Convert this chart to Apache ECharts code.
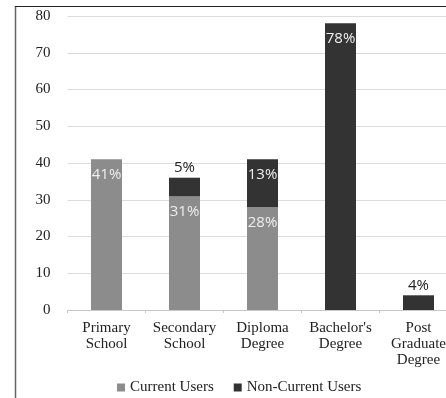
<!DOCTYPE html>
<html>
<head>
<meta charset="utf-8">
<script src="https://cdn.jsdelivr.net/npm/echarts@6/dist/echarts.min.js"></script>
<style>
  html, body { margin: 0; padding: 0; background: #fff; overflow: hidden; }
  /* the plot runs slightly past the right edge of the window */
  #chart { width: 470px; height: 398px; }
</style>
</head>
<body>
<div id="chart"></div>
<script>
// Education level of respondents, split by user type (percent)
const categories = ['Primary\nSchool', 'Secondary\nSchool', 'Diploma\nDegree', "Bachelor's\nDegree", 'Post\nGraduate\nDegree'];
const currentUsers = [41, 31, 28, null, null];
const nonCurrentUsers = [null, 5, 13, 78, 4];
const yTicks = { min: 0, max: 80, step: 10 };

const serif = '"Liberation Serif", "Times New Roman", serif';
const sans = '"Open Sans", "Liberation Sans", Arial, sans-serif';

// Short segments get their label above the bar in dark text; taller ones inside in white.
function withLabels(values) {
  return values.map(v => {
    if (v == null) return { value: null, label: { show: false } };
    const small = v < 8;
    return {
      value: v,
      label: {
        show: true,
        position: small ? 'top' : 'insideTop',
        distance: small ? 2 : 8,
        color: small ? '#222' : '#eeeeee',
        fontFamily: sans,
        fontSize: 15,
        formatter: v + '%'
      }
    };
  });
}

const chart = echarts.init(document.getElementById('chart'), null, { renderer: 'canvas' });
chart.setOption({
  animation: false,
  backgroundColor: '#fff',
  grid: { left: 67.5, top: 16, width: 390, height: 294, containLabel: false },
  legend: {
    left: 112, top: 375,
    itemWidth: 8, itemHeight: 8, itemGap: 20,
    icon: 'rect',
    textStyle: { fontFamily: serif, fontSize: 15, color: '#222' },
    data: ['Current Users', 'Non-Current Users']
  },
  xAxis: {
    type: 'category',
    data: categories,
    axisLine: { lineStyle: { color: '#c8c8c8' } },
    axisTick: { show: true, length: 3, lineStyle: { color: '#c8c8c8' } },
    axisLabel: { fontFamily: serif, fontSize: 15, color: '#222', lineHeight: 16, margin: 10, interval: 0 }
  },
  yAxis: {
    type: 'value',
    min: yTicks.min, max: yTicks.max, interval: yTicks.step,
    axisLine: { show: false },
    axisTick: { show: false },
    splitLine: { lineStyle: { color: '#dcdcdc' } },
    axisLabel: { fontFamily: serif, fontSize: 15, color: '#222', margin: 17 }
  },
  series: [
    {
      name: 'Current Users', type: 'bar', stack: 'users', barWidth: 31,
      itemStyle: { color: '#8c8c8c' },
      data: withLabels(currentUsers)
    },
    {
      name: 'Non-Current Users', type: 'bar', stack: 'users', barWidth: 31,
      itemStyle: { color: '#333333' },
      data: withLabels(nonCurrentUsers)
    }
  ],
  graphic: [
    { type: 'line', shape: { x1: 15.5, y1: 6, x2: 15.5, y2: 398 }, style: { stroke: '#666', lineWidth: 1.5 } },
    { type: 'line', shape: { x1: 15, y1: 6.5, x2: 470, y2: 6.5 }, style: { stroke: '#222', lineWidth: 1 } }
  ]
});
</script>
</body>
</html>
